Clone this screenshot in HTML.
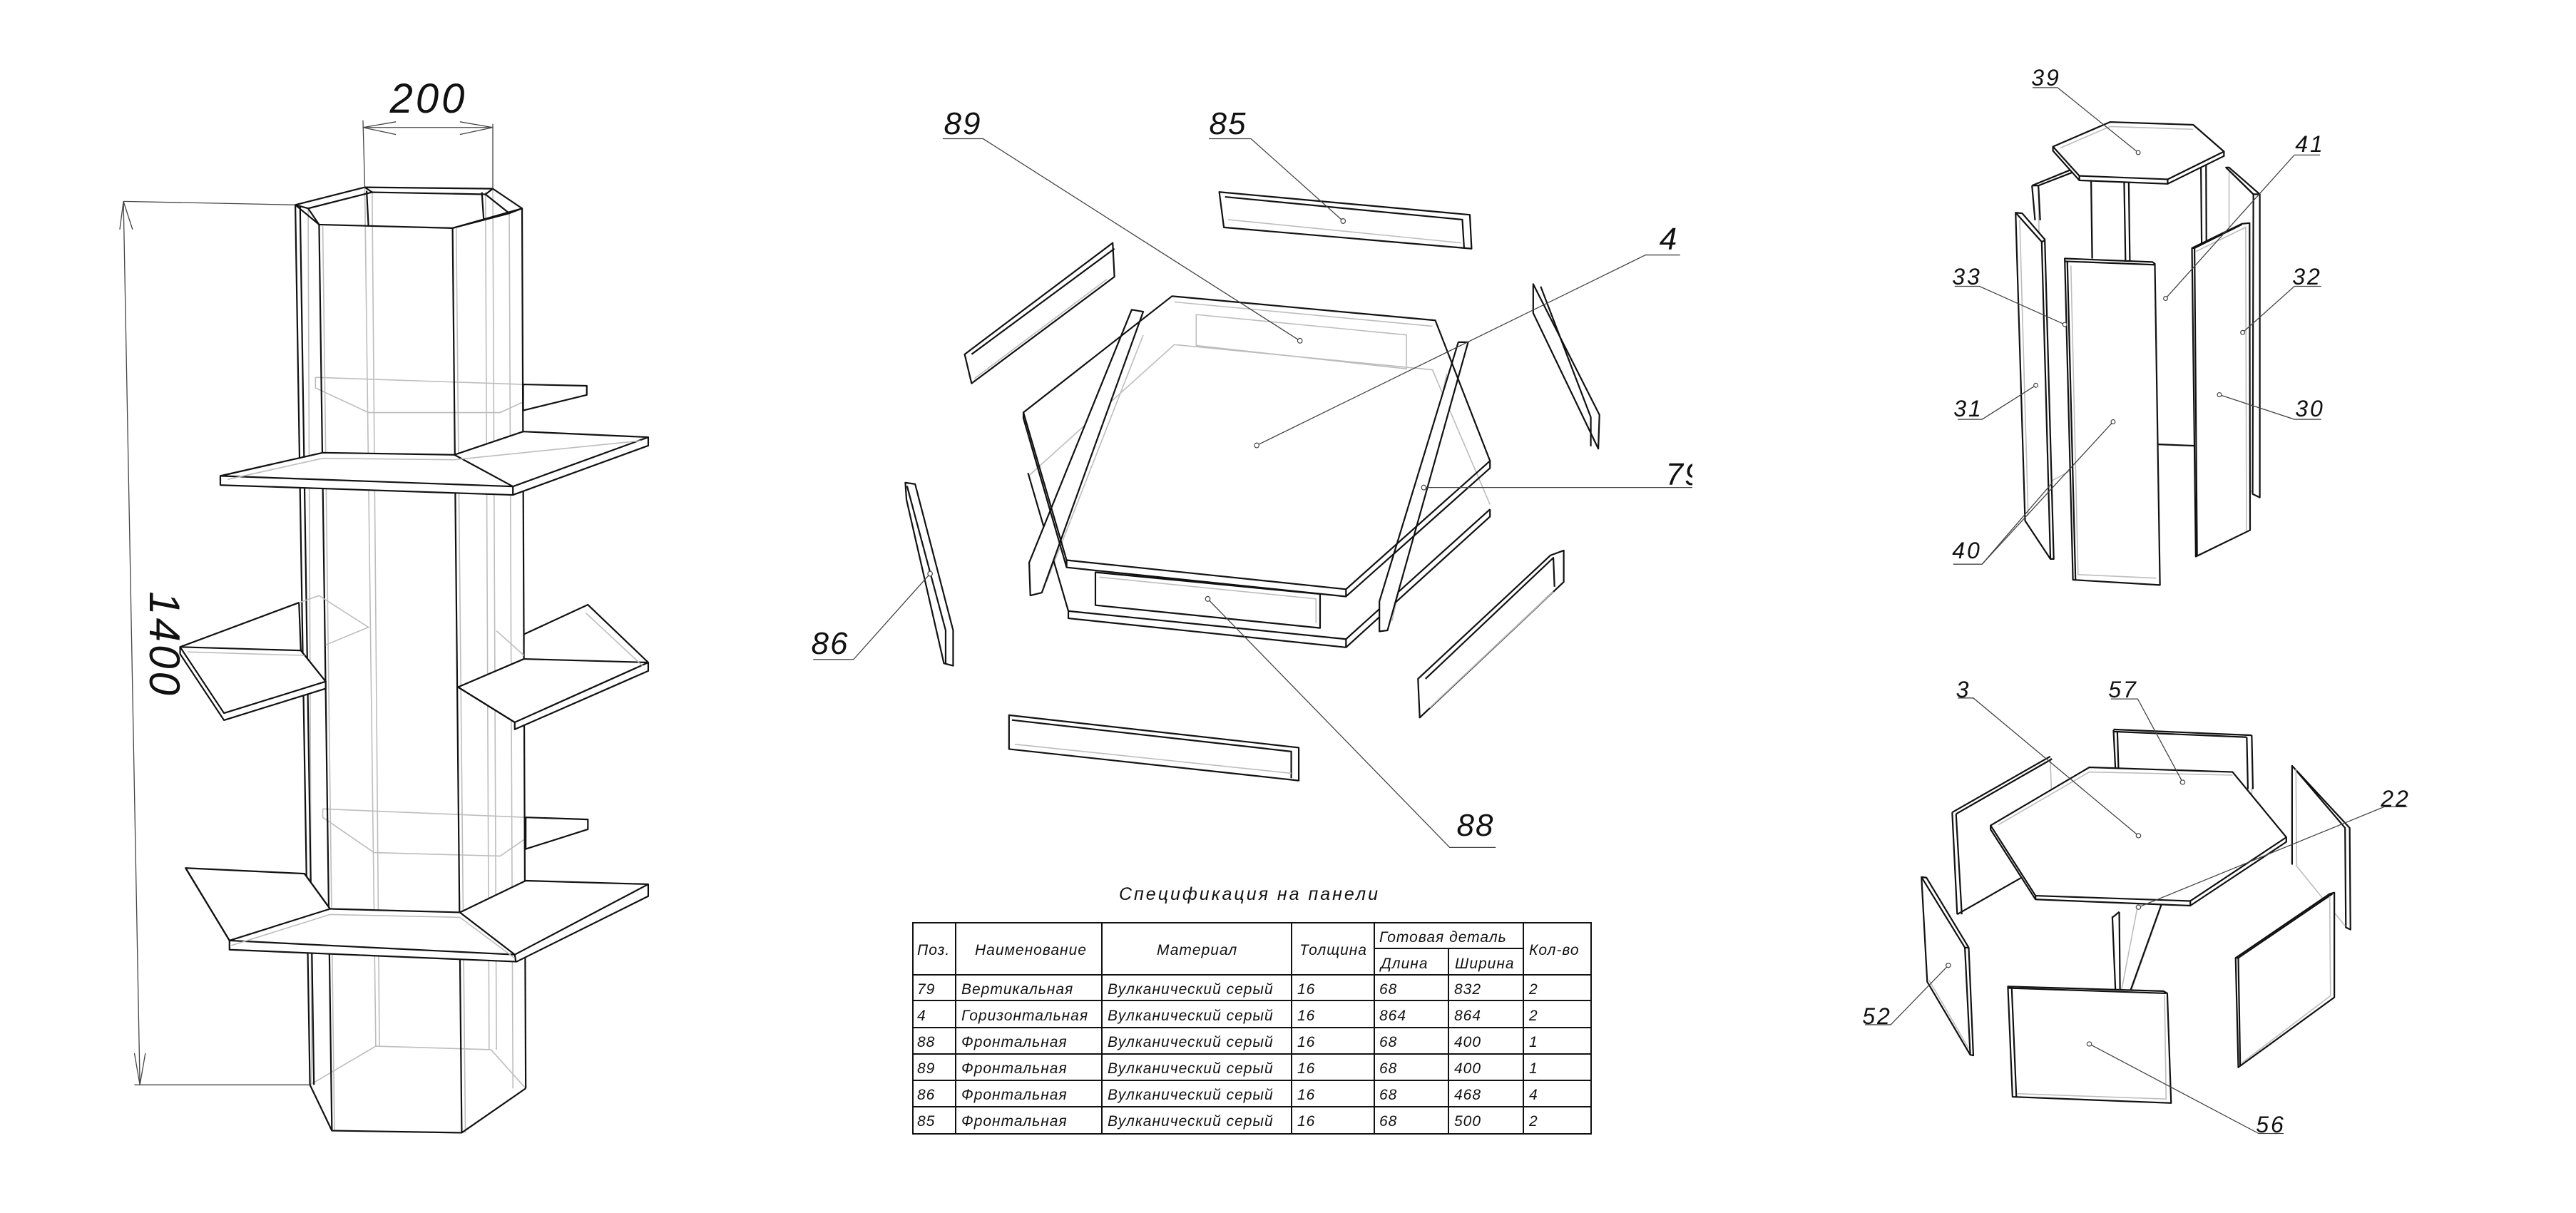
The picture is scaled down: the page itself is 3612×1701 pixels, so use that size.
<!DOCTYPE html>
<html><head><meta charset="utf-8">
<style>
html,body{margin:0;padding:0;background:#fff;}
svg{display:block;}
svg *{vector-effect:non-scaling-stroke;}
.k{fill:none;stroke:#111;stroke-width:2.2;stroke-linejoin:round;}
.w{fill:#fff;stroke:#111;stroke-width:2.2;stroke-linejoin:round;}
.g{fill:none;stroke:#bdbdbd;stroke-width:1.6;}
.l{fill:none;stroke:#444;stroke-width:1.3;}
.d{fill:#fff;stroke:#444;stroke-width:1.2;}
text{font-family:"Liberation Sans",sans-serif;font-style:italic;fill:#111;}
.lb{font-size:32px;letter-spacing:3px;}
.lb2{font-size:44px;letter-spacing:2px;}
.t{font-size:21px;letter-spacing:1px;}
</style></head><body>
<svg width="3612" height="1701" viewBox="0 0 3612 1701" xmlns="http://www.w3.org/2000/svg">
<rect width="3612" height="1701" fill="#fff"/>

<!-- LEFT COLUMN -->
<g transform="translate(150,80) scale(0.5128,0.9872)">
  <polyline class="g" points="705,185 735,1405"/><polyline class="g" points="725,190 745,1405"/>
  <polyline class="g" points="1035,192 1045,1410"/><polyline class="g" points="1055,187 1065,1410"/>
  <polyline class="g" points="550,215 560,1460"/><polyline class="g" points="1100,222 1110,1465"/>
  <polyline class="g" points="555,1460 735,1405 1050,1410 1145,1465"/>
  <polyline class="g" points="590,240 622,1525"/><polyline class="g" points="955,243 980,1528"/>
  <polyline class="g" points="570,455 570,470 715,505 1075,505 1138,490"/>
  <polyline class="g" points="570,455 1138,465"/>
  <polygon class="w" points="1138,465 1312,467 1312,480 1138,502"/>
  <polyline class="g" points="590,1068 590,1080 730,1130 1075,1135 1145,1110"/>
  <polyline class="g" points="590,1068 1145,1080"/>
  <polygon class="w" points="1145,1080 1315,1083 1315,1097 1145,1125"/>
  <polyline class="k" points="515,210 555,1460"/>
  <polyline class="k" points="528,212 566,1460"/>
  <polyline class="k" points="580,238 615,1525"/>
  <polyline class="k" points="945,243 970,1528"/>
  <polyline class="k" points="1135,215 1145,1465"/>
  <polyline class="k" points="555,1460 615,1525 970,1528 1145,1465"/>
  <polygon class="k" points="515,210 705,185 1055,187 1135,215 945,243 580,238"/>
  <polyline class="k" points="550,215 725,192 1035,195 1100,222"/>
  <polyline class="k" points="705,185 725,192"/><polyline class="k" points="1055,187 1035,195"/>
  <polyline class="k" points="515,210 550,215 580,238"/><polyline class="k" points="1135,215 1100,222 945,243"/>
  <polyline class="k" points="710,190 715,240"/><polyline class="k" points="1025,192 1030,230"/>
  <polygon class="w" points="310,595 590,562 950,565 1138,532 1480,540 1480,552 1110,622 310,608"/>
  <polyline class="k" points="310,595 1110,610 1480,540"/><polyline class="k" points="1110,610 1110,622"/>
  <polyline class="k" points="950,565 1110,610"/>
  <polyline class="g" points="330,600 590,570 950,572 1460,545"/>
  <polygon class="w" points="200,838 525,775 530,843 598,887 320,932"/>
  <polygon class="w" points="200,838 530,843 598,887 598,897 320,942 200,848"/>
  <polyline class="k" points="200,838 320,932 598,887"/>
  <polyline class="g" points="525,775 580,765 715,810 598,835"/>
  <polyline class="g" points="220,845 540,850"/>
  <polygon class="w" points="960,895 1140,855 1140,820 1315,778 1480,860 1480,872 1115,955 1115,945"/>
  <polyline class="k" points="960,895 1115,945 1480,860"/><polyline class="k" points="1140,855 1480,860"/>
  <polyline class="g" points="1065,815 1140,850"/><polyline class="g" points="1310,790 1465,865"/>
  <polygon class="w" points="215,1152 540,1160 610,1210 965,1215 1145,1170 1480,1175 1480,1192 1120,1285 335,1268 335,1255"/>
  <polyline class="k" points="215,1152 335,1255 610,1210"/>
  <polyline class="k" points="335,1255 1115,1275 1480,1175"/>
  <polyline class="k" points="965,1215 1115,1275"/><polyline class="k" points="1115,1275 1118,1285"/>
  <polyline class="k" points="540,1160 610,1210"/>
  <polyline class="g" points="340,1262 610,1218 965,1222 1115,1280"/>
  <polyline class="l" points="45,205 515,210"/><polyline class="l" points="75,1460 555,1460"/>
  <polyline class="l" points="45,205 90,1460"/>
  <polyline class="l" points="35,245 45,205 70,245"/><polyline class="l" points="75,1415 90,1460 105,1415"/>
  <polyline class="l" points="700,90 705,185"/><polyline class="l" points="1055,95 1055,187"/>
  <polyline class="l" points="700,100 1055,100"/>
  <polyline class="l" points="790,92 700,100 790,110"/><polyline class="l" points="965,92 1055,100 965,110"/>
</g>
<text x="601" y="158" text-anchor="middle" style="font-size:58px;letter-spacing:4px">200</text>
<text transform="translate(210,904) rotate(90)" text-anchor="middle" style="font-size:60px;letter-spacing:4px">1400</text>

<!-- MIDDLE EXPLODED -->
<defs><clipPath id="cm"><rect x="1100" y="100" width="1273" height="1150"/></clipPath></defs>
<g clip-path="url(#cm)">
<g transform="translate(1120,130) scale(0.8077,0.6793)">
  <polygon class="g" points="690,458 1055,500 1055,570 690,522"/>
  <polyline class="g" points="652,520 1100,572 1200,850"/>
  <polyline class="g" points="652,520 400,790"/>
  <polyline class="g" points="598,500 430,1010"/><polyline class="g" points="1125,580 1030,1090"/>
  <polyline class="k" points="398,785 468,1070 468,1085 950,1145 1200,875 1200,860"/>
  <polyline class="k" points="468,1070 950,1128 1200,860"/><polyline class="k" points="950,1128 950,1145"/>
  <polygon class="w" points="578,448 598,452 422,1032 402,1038 400,970"/>
  <polygon class="w" points="1145,515 1162,515 1022,1110 1008,1112 1008,1050"/>
  <polygon class="k" points="648,420 1105,470 1200,760 950,1025 465,965 390,660"/>
  <polyline class="k" points="390,660 390,672 465,980 950,1040 1200,775 1200,760"/>
  <polyline class="k" points="465,965 465,980"/><polyline class="k" points="950,1025 950,1040"/>
  <polyline class="g" points="652,432 1100,482"/>
  <polygon class="w" points="515,990 905,1035 905,1105 515,1058"/>
  <polyline class="g" points="522,1000 898,1045 898,1095"/>
  <polygon class="w" points="730,205 1165,252 1168,322 738,278"/>
  <polyline class="k" points="740,215 1152,262 1155,320"/>
  <polyline class="g" points="745,262 1150,310"/>
  <polygon class="w" points="288,540 545,310 548,380 300,600"/>
  <polyline class="k" points="300,540 548,322"/>
  <polyline class="g" points="305,590 535,385"/>
  <polygon class="w" points="1275,395 1390,665 1388,735 1275,455"/>
  <polyline class="k" points="1288,400 1375,670 1375,730"/>
  <polygon class="w" points="185,805 202,808 268,1110 268,1183 252,1178 187,840"/>
  <polyline class="k" points="188,812 255,1110 255,1180"/>
  <polygon class="w" points="1075,1210 1305,955 1328,945 1328,1010 1078,1290"/>
  <polyline class="k" points="1088,1210 1310,960 1312,1020"/>
  <polyline class="g" points="1095,1270 1310,1030"/>
  <polygon class="w" points="365,1285 868,1352 868,1420 365,1355"/>
  <polyline class="k" points="370,1295 855,1360 855,1415"/>
  <polyline class="g" points="375,1345 855,1405"/>
  <polyline class="l" points="250,95 320,95 870,512"/>
  <polyline class="l" points="712,95 785,95 945,265"/>
  <polyline class="l" points="1530,335 1470,335 795,728"/>
  <polyline class="l" points="1560,815 1085,815"/>
  <polyline class="l" points="710,1045 1130,1558 1210,1558"/>
  <polyline class="l" points="228,993 95,1170 25,1170"/>
  <ellipse class="d" cx="870" cy="512" rx="4" ry="5"/><ellipse class="d" cx="945" cy="265" rx="4" ry="5"/>
  <ellipse class="d" cx="795" cy="728" rx="4" ry="5"/><ellipse class="d" cx="1085" cy="815" rx="4" ry="5"/>
  <ellipse class="d" cx="710" cy="1045" rx="4" ry="5"/><ellipse class="d" cx="228" cy="993" rx="4" ry="5"/>
</g>
<text class="lb2" x="1350" y="188" text-anchor="middle">89</text>
<text class="lb2" x="1722" y="188" text-anchor="middle">85</text>
<text class="lb2" x="2340" y="350" text-anchor="middle">4</text>
<text class="lb2" x="2362" y="680" text-anchor="middle">79</text>
<text class="lb2" x="2069" y="1172" text-anchor="middle">88</text>
<text class="lb2" x="1164" y="917" text-anchor="middle">86</text>
</g>

<!-- TABLE -->
<text x="1752" y="1262" text-anchor="middle" style="font-size:25px;letter-spacing:3px">Спецификация  на  панели</text>
<g stroke="#111" stroke-width="2" fill="none">
  <rect x="1280" y="1294" width="951" height="296"/>
  <line x1="1340" y1="1294" x2="1340" y2="1590"/><line x1="1545" y1="1294" x2="1545" y2="1590"/>
  <line x1="1811" y1="1294" x2="1811" y2="1590"/><line x1="1927" y1="1294" x2="1927" y2="1590"/>
  <line x1="2031" y1="1330" x2="2031" y2="1590"/><line x1="2136" y1="1294" x2="2136" y2="1590"/>
  <line x1="1927" y1="1330" x2="2136" y2="1330"/>
  <line x1="1280" y1="1367" x2="2231" y2="1367"/><line x1="1280" y1="1403" x2="2231" y2="1403"/>
  <line x1="1280" y1="1441" x2="2231" y2="1441"/><line x1="1280" y1="1478" x2="2231" y2="1478"/>
  <line x1="1280" y1="1515" x2="2231" y2="1515"/><line x1="1280" y1="1552" x2="2231" y2="1552"/>
</g>
<g>
  <text class="t" x="1286" y="1339">Поз.</text>
  <text class="t" x="1367" y="1339">Наименование</text>
  <text class="t" x="1622" y="1339">Материал</text>
  <text class="t" x="1822" y="1339">Толщина</text>
  <text class="t" x="1934" y="1321">Готовая  деталь</text>
  <text class="t" x="1936" y="1358">Длина</text>
  <text class="t" x="2040" y="1358">Ширина</text>
  <text class="t" x="2144" y="1339">Кол-во</text>
</g>
<g>
  <text class="t" x="1286" y="1394">79</text><text class="t" x="1348" y="1394">Вертикальная</text><text class="t" x="1553" y="1394">Вулканический серый</text><text class="t" x="1819" y="1394">16</text><text class="t" x="1934" y="1394">68</text><text class="t" x="2039" y="1394">832</text><text class="t" x="2144" y="1394">2</text>
  <text class="t" x="1286" y="1431">4</text><text class="t" x="1348" y="1431">Горизонтальная</text><text class="t" x="1553" y="1431">Вулканический серый</text><text class="t" x="1819" y="1431">16</text><text class="t" x="1934" y="1431">864</text><text class="t" x="2039" y="1431">864</text><text class="t" x="2144" y="1431">2</text>
  <text class="t" x="1286" y="1468">88</text><text class="t" x="1348" y="1468">Фронтальная</text><text class="t" x="1553" y="1468">Вулканический серый</text><text class="t" x="1819" y="1468">16</text><text class="t" x="1934" y="1468">68</text><text class="t" x="2039" y="1468">400</text><text class="t" x="2144" y="1468">1</text>
  <text class="t" x="1286" y="1505">89</text><text class="t" x="1348" y="1505">Фронтальная</text><text class="t" x="1553" y="1505">Вулканический серый</text><text class="t" x="1819" y="1505">16</text><text class="t" x="1934" y="1505">68</text><text class="t" x="2039" y="1505">400</text><text class="t" x="2144" y="1505">1</text>
  <text class="t" x="1286" y="1542">86</text><text class="t" x="1348" y="1542">Фронтальная</text><text class="t" x="1553" y="1542">Вулканический серый</text><text class="t" x="1819" y="1542">16</text><text class="t" x="1934" y="1542">68</text><text class="t" x="2039" y="1542">468</text><text class="t" x="2144" y="1542">4</text>
  <text class="t" x="1286" y="1579">85</text><text class="t" x="1348" y="1579">Фронтальная</text><text class="t" x="1553" y="1579">Вулканический серый</text><text class="t" x="1819" y="1579">16</text><text class="t" x="1934" y="1579">68</text><text class="t" x="2039" y="1579">500</text><text class="t" x="2144" y="1579">2</text>
</g>

<!-- RIGHT TOP -->
<g transform="translate(2720,80) scale(0.3589,0.4871)">
  <polyline class="g" points="720,360 740,1110 1040,1120"/>
  <polyline class="g" points="590,300 612,1150 400,1235 385,370"/>
  <polyline class="g" points="1130,330 1130,1165 1222,1255"/>
  <polyline class="g" points="500,590 525,1495 840,1505"/>
  <polyline class="g" points="1000,560 1005,1420 1200,1360"/>
  <polyline class="k" points="720,360 735,1000"/><polyline class="k" points="738,360 750,1000"/>
  <polyline class="k" points="1020,305 1030,1120"/><polyline class="k" points="1040,305 1045,1120"/>
  <polyline class="k" points="850,1115 1030,1120"/>
  <polyline class="k" points="360,370 510,325"/><polyline class="k" points="385,370 515,333"/>
  <polyline class="k" points="360,370 385,370"/><polyline class="k" points="360,370 372,470"/><polyline class="k" points="385,370 392,470"/>
  <polyline class="k" points="590,300 595,580"/>
  <polygon class="w" points="442,258 665,187 990,195 1110,272 1110,285 890,365 545,355 442,270"/>
  <polyline class="k" points="442,258 545,342 890,352 1110,272"/>
  <polyline class="k" points="545,342 545,355"/><polyline class="k" points="890,352 890,365"/>
  <polyline class="g" points="470,262 665,200 990,208"/>
  <polygon class="w" points="296,448 322,450 410,525 445,1445 432,1445 333,1335"/>
  <polyline class="k" points="296,448 398,532 432,1445"/><polyline class="k" points="398,532 410,528"/>
  <polyline class="g" points="312,470 345,1320"/>
  <polygon class="w" points="1118,318 1130,318 1250,395 1250,1268 1222,1258 1225,395"/>
  <polyline class="k" points="1118,318 1225,395 1248,395"/>
  <polygon class="w" points="985,550 1180,480 1210,478 1212,1362 1000,1438"/>
  <polyline class="k" points="985,550 995,550 1180,482"/><polyline class="k" points="995,550 1005,1435"/>
  <polyline class="g" points="1000,560 1195,490 1198,1365"/>
  <polygon class="w" points="488,580 830,590 840,595 860,1520 520,1505"/>
  <polyline class="k" points="488,588 840,598"/><polyline class="k" points="498,588 530,1505"/>
  <polyline class="g" points="512,600 540,1490 845,1500"/>
  <polyline class="l" points="362,88 460,88 775,275"/>
  <polyline class="l" points="1485,282 1385,282 882,695"/>
  <polyline class="l" points="58,660 155,660 488,770"/>
  <polyline class="l" points="1490,660 1385,660 1183,793"/>
  <polyline class="l" points="70,1043 165,1043 375,945"/>
  <polyline class="l" points="1490,1043 1385,1043 1092,972"/>
  <polyline class="l" points="52,1460 165,1460 677,1050"/>
  <polyline class="l" points="165,1460 440,1225"/>
  <ellipse class="d" cx="775" cy="275" rx="8" ry="6"/><ellipse class="d" cx="882" cy="695" rx="8" ry="6"/>
  <ellipse class="d" cx="488" cy="770" rx="8" ry="6"/><ellipse class="d" cx="1183" cy="793" rx="8" ry="6"/>
  <ellipse class="d" cx="375" cy="945" rx="8" ry="6"/><ellipse class="d" cx="1092" cy="972" rx="8" ry="6"/>
  <ellipse class="d" cx="677" cy="1050" rx="8" ry="6"/>
</g>
<text class="lb" x="2869" y="120" text-anchor="middle">39</text>
<text class="lb" x="3239" y="213" text-anchor="middle">41</text>
<text class="lb" x="2758" y="399" text-anchor="middle">33</text>
<text class="lb" x="3235" y="399" text-anchor="middle">32</text>
<text class="lb" x="2760" y="584" text-anchor="middle">31</text>
<text class="lb" x="3239" y="584" text-anchor="middle">30</text>
<text class="lb" x="2758" y="783" text-anchor="middle">40</text>

<!-- RIGHT BOTTOM -->
<g transform="translate(2600,930) scale(0.5385,0.4359)">
  <polyline class="g" points="680,335 682,530 1035,548 1035,400"/>
  <polyline class="k" points="675,213 1035,232"/><polyline class="k" points="675,220 1022,238"/>
  <polyline class="k" points="675,215 680,340"/><polyline class="k" points="685,220 688,340"/>
  <polyline class="k" points="1022,238 1025,405"/><polyline class="k" points="1035,232 1038,405"/>
  <polyline class="g" points="510,300 520,620 435,690"/>
  <polyline class="k" points="255,480 510,300"/><polyline class="k" points="265,485 515,308"/>
  <polyline class="k" points="255,480 268,808"/><polyline class="k" points="265,485 280,808"/>
  <polyline class="k" points="268,808 435,690"/>
  <polygon class="w" points="1140,330 1290,530 1292,857 1280,850 1278,530"/>
  <polyline class="k" points="1140,330 1140,648"/>
  <polyline class="g" points="1150,650 1278,845"/><polyline class="g" points="1150,340 1152,650"/>
  <polyline class="g" points="795,410 805,410 810,735"/>
  <polyline class="g" points="795,412 680,1155 692,1155 800,780"/>
  <polyline class="k" points="672,818 690,800"/><polyline class="k" points="672,815 680,1050"/><polyline class="k" points="690,800 692,1050"/>
  <polyline class="k" points="800,775 720,1050"/>
  <polygon class="w" points="355,522 612,335 985,350 1125,560 1125,575 875,780 472,760 355,535"/>
  <polyline class="k" points="355,522 472,748 875,765 1125,560"/>
  <polyline class="k" points="472,748 472,760"/><polyline class="k" points="875,765 875,780"/>
  <polyline class="g" points="375,520 612,350 985,360"/>
  <polygon class="w" points="175,688 188,690 298,915 310,1262 302,1260 190,1025"/>
  <polyline class="k" points="175,688 288,915 302,1260"/><polyline class="k" points="288,915 298,915"/>
  <polyline class="g" points="195,1020 298,1240"/>
  <polygon class="w" points="400,1040 805,1055 815,1062 825,1415 412,1395"/>
  <polyline class="k" points="400,1045 812,1062"/><polyline class="k" points="410,1045 422,1395"/>
  <polyline class="g" points="425,1385 812,1402 808,1068"/>
  <polygon class="w" points="993,948 1238,742 1250,738 1250,1075 1000,1300"/>
  <polyline class="k" points="993,948 1000,948 1245,742"/><polyline class="k" points="1000,948 1005,1295"/>
  <polyline class="g" points="1238,750 1240,1070 1010,1285"/>
  <polyline class="l" points="270,112 310,112 740,555"/>
  <polyline class="l" points="668,115 738,115 855,383"/>
  <polyline class="l" points="1440,462 1380,462 740,785"/>
  <polyline class="l" points="28,1163 95,1163 245,972"/>
  <polyline class="l" points="1118,1513 1053,1513 612,1225"/>
  <ellipse class="d" cx="740" cy="555" rx="6" ry="7"/><ellipse class="d" cx="855" cy="383" rx="6" ry="7"/>
  <ellipse class="d" cx="740" cy="785" rx="6" ry="7"/><ellipse class="d" cx="245" cy="972" rx="6" ry="7"/>
  <ellipse class="d" cx="612" cy="1225" rx="6" ry="7"/>
</g>
<text class="lb" x="2753" y="978" text-anchor="middle">3</text>
<text class="lb" x="2977" y="978" text-anchor="middle">57</text>
<text class="lb" x="3359" y="1131" text-anchor="middle">22</text>
<text class="lb" x="2632" y="1436" text-anchor="middle">52</text>
<text class="lb" x="3184" y="1588" text-anchor="middle">56</text>
</svg>
</body></html>
